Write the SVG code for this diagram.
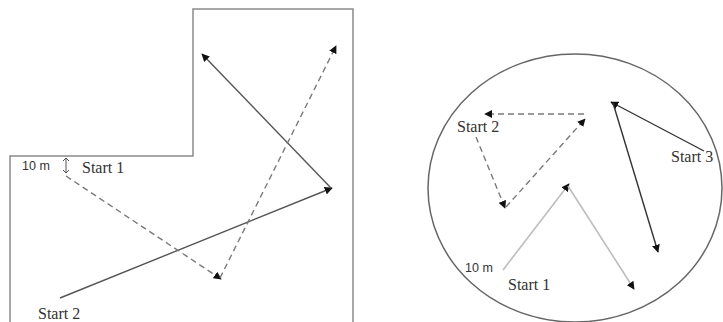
<svg xmlns="http://www.w3.org/2000/svg" width="723" height="322" viewBox="0 0 723 322">
<defs>
<marker id="ah" viewBox="0 0 10 10" refX="9" refY="5" markerWidth="8" markerHeight="8" markerUnits="userSpaceOnUse" orient="auto">
<path d="M0,0 L10,5 L0,10 Z" fill="#111"/>
</marker>
<style>
.outline{fill:none;stroke:#8a8a8a;stroke-width:1.5}
.solid{fill:none;stroke:#555;stroke-width:1.4;marker-end:url(#ah)}
.dark{fill:none;stroke:#333;stroke-width:1.4;marker-end:url(#ah)}
.light{fill:none;stroke:#bdbdbd;stroke-width:1.6;marker-end:url(#ah)}
.dash{fill:none;stroke:#7a7a7a;stroke-width:1.4;stroke-dasharray:6 4;marker-end:url(#ah)}
.lbl{font-family:"Liberation Serif",serif;font-size:16px;fill:#333}
.small{font-family:"Liberation Sans",sans-serif;font-size:12.5px;fill:#333}
</style>
</defs>
<g id="room-l">
<polyline class="outline" points="10,322 10,156 193,156 193,9 353,9 353,322"/>
</g>
<g id="room-circle">
<ellipse cx="575" cy="188" rx="147" ry="134" fill="none" stroke="#666" stroke-width="1.5"/>
</g>
<g id="labels-left">
<text class="small" x="22" y="170">10 m</text>
<path d="M66,158 L66,173 M63,161 L66,158 L69,161 M63,170 L66,173 L69,170" fill="none" stroke="#555" stroke-width="1"/>
<text class="lbl" x="82" y="173">Start 1</text>
<text class="lbl" x="38" y="319">Start 2</text>
</g>
<g id="labels-right">
<text class="lbl" x="457" y="132">Start 2</text>
<text class="lbl" x="671" y="162">Start 3</text>
<text class="small" x="465" y="272">10 m</text>
<text class="lbl" x="508" y="290">Start 1</text>
</g>
<g id="connectors">
<line class="solid" x1="60" y1="298" x2="332" y2="188"/>
<line class="solid" x1="331" y1="188" x2="202" y2="54"/>
<line class="dash" x1="66" y1="176" x2="221" y2="279"/>
<line class="dash" x1="220" y1="278" x2="336" y2="46"/>
<line class="dash" x1="476" y1="137" x2="505" y2="208"/>
<line class="dash" x1="506" y1="207" x2="585" y2="119"/>
<line class="dash" x1="584" y1="114" x2="485" y2="114"/>
<line class="dark" x1="704" y1="151" x2="611" y2="102"/>
<line class="dark" x1="613" y1="103" x2="658" y2="252"/>
<line class="light" x1="503" y1="270" x2="569" y2="184"/>
<line class="light" x1="568" y1="186" x2="634" y2="289"/>
</g>
</svg>
